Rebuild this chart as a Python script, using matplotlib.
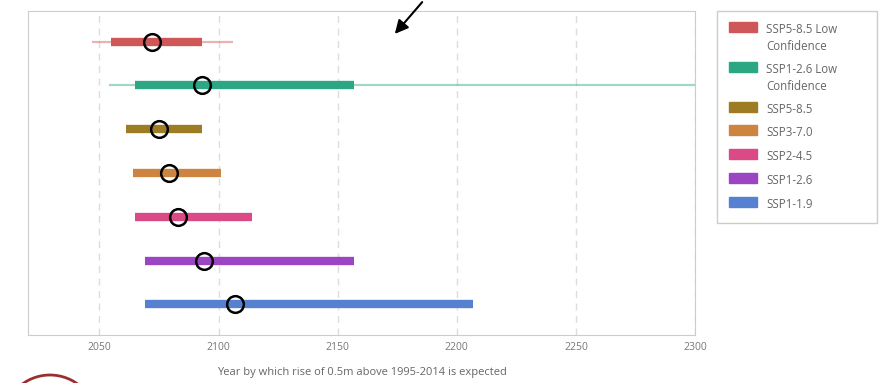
import matplotlib.pyplot as plt
from matplotlib.patches import Rectangle, Ellipse, FancyArrowPatch

plt.rcParams['font.family'] = ['Open Sans', 'DejaVu Sans']

# scenarios, top to bottom
labels = ["SSP5-8.5 Low\nConfidence", "SSP1-2.6 Low\nConfidence", "SSP5-8.5",
          "SSP3-7.0", "SSP2-4.5", "SSP1-2.6", "SSP1-1.9"]
colors = ["#d05757", "#2ca784", "#9e7c24", "#cd843f", "#d94a86", "#9c45c2", "#5681d0"]
likely_lo = [2055, 2065, 2061, 2064, 2065, 2069, 2069]
likely_hi = [2093, 2157, 2093, 2101, 2114, 2157, 2207]
median = [2072, 2093, 2075, 2079, 2083, 2094, 2107]
# wider range, only for the low confidence rows
wide_lo = [2047, 2054, None, None, None, None, None]
wide_hi = [2106, 2320, None, None, None, None, None]
xticks = [2050, 2100, 2150, 2200, 2250, 2300]

W, H = 884, 383
fig = plt.figure(figsize=(W / 100, H / 100), dpi=100)
ax = fig.add_axes([28 / W, 1 - 335 / H, (695 - 28) / W, (335 - 11) / H])

for i in range(len(labels)):
    if wide_lo[i] is not None:
        ax.hlines(i, wide_lo[i], wide_hi[i], color=colors[i], lw=1.6, alpha=0.45, zorder=2)
    ax.hlines(i, likely_lo[i], likely_hi[i], color=colors[i], lw=6, zorder=3)
ax.plot(median, range(len(labels)), 'o', ms=12, mfc='none', mec='black', mew=1.8, zorder=4)

ax.set_xlim(2020, 2300)
ax.set_ylim(len(labels) - 0.3, -0.7)
ax.set_xticks(xticks)
ax.set_yticks([])
ax.tick_params(axis='x', length=0, labelsize=7.5, labelcolor='#777777', pad=5)
ax.grid(axis='x', color='#dddddd', ls=(0, (5, 4)), lw=1)
ax.set_axisbelow(True)
for s in ax.spines.values():
    s.set_color('#cccccc')
ax.set_xlabel("Year by which rise of 0.5m above 1995-2014 is expected",
              fontsize=8, color='#666666', labelpad=10)

# legend drawn by hand to match the box layout
fig.patches.append(Rectangle((717 / W, 1 - 223 / H), 160 / W, 212 / H, transform=fig.transFigure,
                             fill=False, ec='#cccccc', lw=1))
pos = [22, 62, 102, 125, 149, 173, 197]
for lab, c, p in zip(labels, colors, pos):
    fig.patches.append(Rectangle((729 / W, 1 - (p + 10) / H), 28 / W, 10 / H,
                                 transform=fig.transFigure, color=c))
    fig.text(766 / W, 1 - (p + 1) / H, lab, fontsize=8.3, color='#666666', va='top',
             linespacing=1.45)

# annotation marks
fig.add_artist(FancyArrowPatch(
    (424 / W, 1 - 0 / H), (393 / W, 1 - 36 / H), transform=fig.transFigure,
    arrowstyle='-|>', mutation_scale=20, color='black', lw=1.5))
fig.patches.append(Ellipse((50 / W, 1 - 420 / H), 92 / W, 90 / H, transform=fig.transFigure,
                           fill=False, ec='#9b2f2f', lw=2))

fig.savefig('out.png', dpi=100)
